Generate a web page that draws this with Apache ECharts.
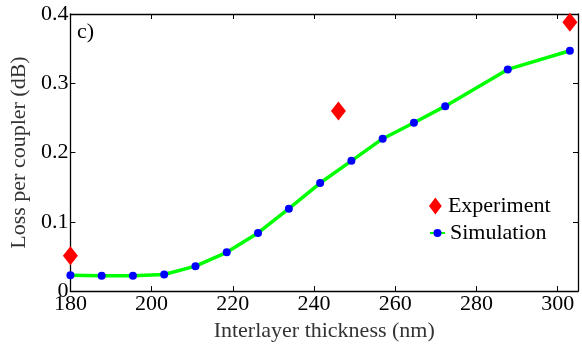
<!DOCTYPE html>
<html>
<head>
<meta charset="utf-8">
<script src="https://cdn.jsdelivr.net/npm/echarts@6/dist/echarts.min.js"></script>
<style>
  html, body { margin: 0; padding: 0; background: #fff; }
  #main { width: 582px; height: 347px; }
</style>
</head>
<body>
<div id="main"></div>
<script>
// simulated loss per coupler vs interlayer thickness
const simThickness = [180, 187.7, 195.4, 203.1, 210.8, 218.5, 226.2, 233.8, 241.5, 249.2, 256.9, 264.6, 272.3, 287.7, 303];
const simLoss = [0.023, 0.022, 0.022, 0.024, 0.036, 0.056, 0.084, 0.119, 0.156, 0.188, 0.220, 0.243, 0.267, 0.320, 0.347];

// measured points
const expThickness = [180, 246, 303];
const expLoss = [0.051, 0.260, 0.388];

const font = 'Liberation Serif';

const chart = echarts.init(document.getElementById('main'));

const simData = simThickness.map((x, i) => [x, simLoss[i]]);
const expData = expThickness.map((x, i) => [x, expLoss[i]]);

const tickStyle = { show: true, inside: true, length: 5, lineStyle: { color: '#000', width: 1 } };
const lineStyle = { show: true, onZero: false, lineStyle: { color: '#000', width: 1.3 } };
const legendText = { fontFamily: font, fontSize: 22, color: '#000' };

chart.setOption({
    animation: false,
    grid: { left: 68, right: 4, top: 14, bottom: 54 },
    xAxis: [
        {
            type: 'value',
            min: 180,
            max: 305,
            interval: 20,
            position: 'bottom',
            name: 'Interlayer thickness (nm)',
            nameLocation: 'middle',
            nameGap: 24,
            nameTextStyle: { fontFamily: font, fontSize: 22, color: '#333' },
            axisLine: lineStyle,
            axisTick: tickStyle,
            splitLine: { show: false },
            axisLabel: { fontFamily: font, fontSize: 22, color: '#000', margin: 2, showMaxLabel: false }
        },
        {
            type: 'value',
            min: 180,
            max: 305,
            interval: 20,
            position: 'top',
            axisLine: lineStyle,
            axisTick: tickStyle,
            splitLine: { show: false },
            axisLabel: { show: false }
        }
    ],
    yAxis: [
        {
            type: 'value',
            min: 0,
            max: 0.4,
            interval: 0.1,
            position: 'left',
            name: 'Loss per coupler (dB)',
            nameLocation: 'middle',
            nameGap: 33,
            nameTextStyle: { fontFamily: font, fontSize: 22, color: '#333' },
            axisLine: lineStyle,
            axisTick: tickStyle,
            splitLine: { show: false },
            axisLabel: { fontFamily: font, fontSize: 22, color: '#000', margin: 2 }
        },
        {
            type: 'value',
            min: 0,
            max: 0.4,
            interval: 0.1,
            position: 'right',
            axisLine: lineStyle,
            axisTick: tickStyle,
            splitLine: { show: false },
            axisLabel: { show: false }
        }
    ],
    legend: [
        {
            left: 429,
            top: 195,
            padding: 0,
            itemWidth: 15,
            itemHeight: 17,
            textStyle: legendText,
            data: [{ name: 'Experiment', icon: 'path://M0,-10 L7.5,0 L0,10 L-7.5,0 Z' }]
        },
        {
            left: 429,
            top: 222,
            padding: 0,
            itemWidth: 15,
            itemHeight: 10,
            textStyle: legendText,
            data: ['Simulation']
        }
    ],
    graphic: [
        {
            type: 'text',
            left: 77,
            top: 21,
            style: { text: 'c)', font: '22px "Liberation Serif"', fill: '#000' }
        }
    ],
    series: [
        {
            name: 'Simulation',
            type: 'line',
            data: simData,
            symbol: 'circle',
            symbolSize: 8,
            itemStyle: { color: '#0000ff' },
            lineStyle: { color: '#00ff00', width: 3.5 },
            z: 2
        },
        {
            name: 'Experiment',
            type: 'scatter',
            data: expData,
            symbol: 'diamond',
            symbolSize: [15, 19],
            itemStyle: { color: '#ff0000', opacity: 1 },
            z: 3
        }
    ]
});
</script>
</body>
</html>
